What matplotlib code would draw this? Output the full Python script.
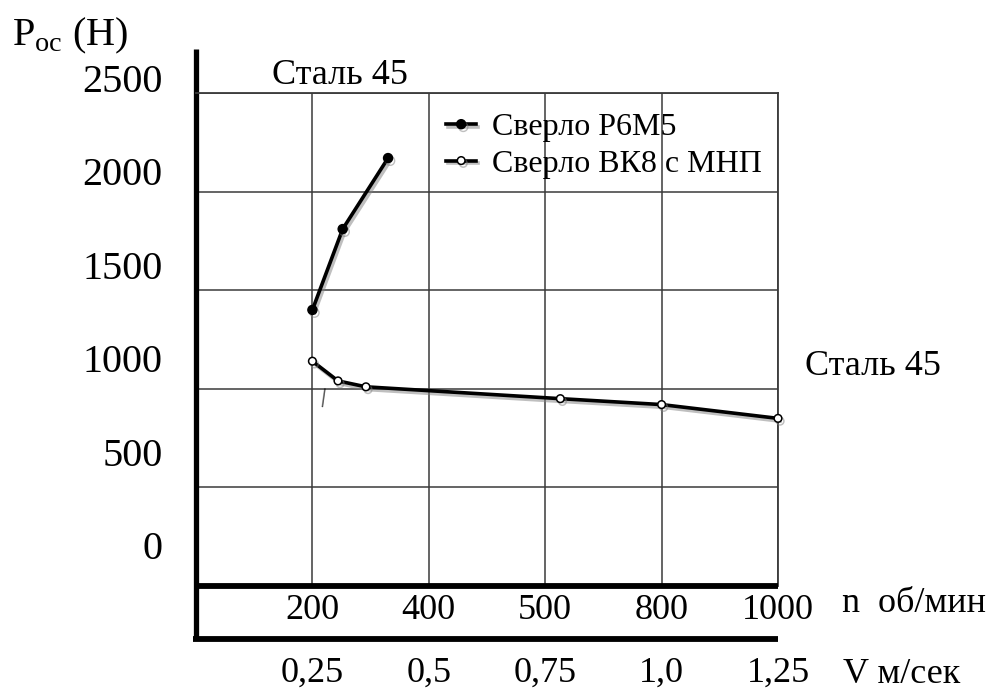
import matplotlib
matplotlib.use("Agg")
import matplotlib.pyplot as plt
import matplotlib.patheffects as pe

plt.rcParams["font.family"] = ["Liberation Serif", "DejaVu Serif"]
plt.rcParams["mathtext.fontset"] = "custom"
plt.rcParams["mathtext.rm"] = "Liberation Serif"

# --- data (x in grid-column units: 1 -> n=200, 2 -> 400, ... 5 -> 1000) ---
n_ticks = ["200", "400", "500", "800", "1000"]
v_ticks = ["0,25", "0,5", "0,75", "1,0", "1,25"]
p_ticks = [0, 500, 1000, 1500, 2000, 2500]

x_p6m5 = [1.0, 1.26, 1.65]
p_p6m5 = [1400, 1810, 2170]

x_bk8 = [1.0, 1.22, 1.46, 3.13, 4.0, 5.0]
p_bk8 = [1140, 1040, 1010, 950, 920, 850]

W, H = 990, 691
fig = plt.figure(figsize=(W / 100, H / 100), dpi=100)

# main grid area (pixel box 196..778 x 93..586)
ax = fig.add_axes([196 / W, 1 - 586 / H, 582 / W, 493 / H])
ax.set_xlim(0, 5)
ax.set_ylim(0, 2500)
ax.set_xticks(range(1, 6))
ax.set_xticklabels(n_ticks, fontsize=26)
ax.set_yticks(p_ticks)
ax.set_yticklabels([])
ax.tick_params(length=0, pad=6)
ax.tick_params(axis="y", pad=0)
ax.grid(True, color="#3a3a3a", linewidth=1.1)
ax.set_axisbelow(True)
for side in ["top", "right"]:
    ax.spines[side].set_color("#3a3a3a")
    ax.spines[side].set_linewidth(1.3)
ax.spines["left"].set_visible(False)
ax.spines["bottom"].set_linewidth(4.2)
ax.spines["bottom"].set_capstyle("butt")

# frame: thick left bar and the lower bar under the n row
ax.plot([0, 0], [-0.107, 1.09], transform=ax.transAxes, color="black",
        linewidth=3.8, clip_on=False, solid_capstyle="butt")
ax.plot([-0.005, 1.0], [-0.107, -0.107], transform=ax.transAxes, color="black",
        linewidth=4.2, clip_on=False, solid_capstyle="butt")

shadow = [pe.SimpleLineShadow(offset=(1.5, -2), shadow_color="gray", alpha=0.5),
          pe.Normal()]

ax.plot(x_p6m5, p_p6m5, color="black", linewidth=2.6, marker="o",
        markersize=6.5, markerfacecolor="black", path_effects=shadow,
        label="Сверло Р6М5", clip_on=False, zorder=4)
ax.plot(x_bk8, p_bk8, color="black", linewidth=2.6, marker="o",
        markersize=5.5, markerfacecolor="white", markeredgewidth=1.1,
        path_effects=shadow, label="Сверло ВК8 с МНП", clip_on=False, zorder=4)

ax.legend(loc="upper left", bbox_to_anchor=(446 / W, 1 - 113 / H),
          bbox_transform=fig.transFigure, frameon=False, fontsize=23,
          handlelength=0.95, handletextpad=0.5, labelspacing=0.22,
          borderpad=0, borderaxespad=0)

# stray pen mark under the first points
ax.text(1.09, 955, "|", fontsize=15, ha="center", va="center", rotation=-8)

# V row below the n row
for i, lbl in enumerate(v_ticks):
    ax.annotate(lbl, xy=(i + 1, 0), xycoords=("data", "axes fraction"),
                xytext=(0, -63), textcoords="offset points",
                ha="center", va="center", fontsize=26)

# y tick labels sit on their own, slightly tighter scale
lab = fig.add_axes([196 / W, 1 - 545 / H, 0.001, 467 / H])
lab.set_ylim(0, 2500)
lab.set_yticks(p_ticks)
lab.set_yticklabels([str(v) for v in p_ticks], fontsize=29)
lab.set_xticks([])
lab.tick_params(length=0, pad=24)
lab.patch.set_visible(False)
for s in lab.spines.values():
    s.set_visible(False)

fig.text(12 / W, 1 - 45 / H, r"P$_{\mathrm{ос}}$ (Н)", fontsize=29,
         ha="left", va="baseline")
fig.text(340 / W, 1 - 75 / H, "Сталь 45", fontsize=26, ha="center", va="center")
fig.text(873 / W, 1 - 367 / H, "Сталь 45", fontsize=26, ha="center", va="center")
fig.text(842 / W, 1 - 603 / H, "n  об/мин", fontsize=26, ha="left", va="center")
fig.text(843 / W, 1 - 683 / H, "V м/сек", fontsize=26, ha="left", va="baseline")

fig.savefig("out.png", dpi=100)
